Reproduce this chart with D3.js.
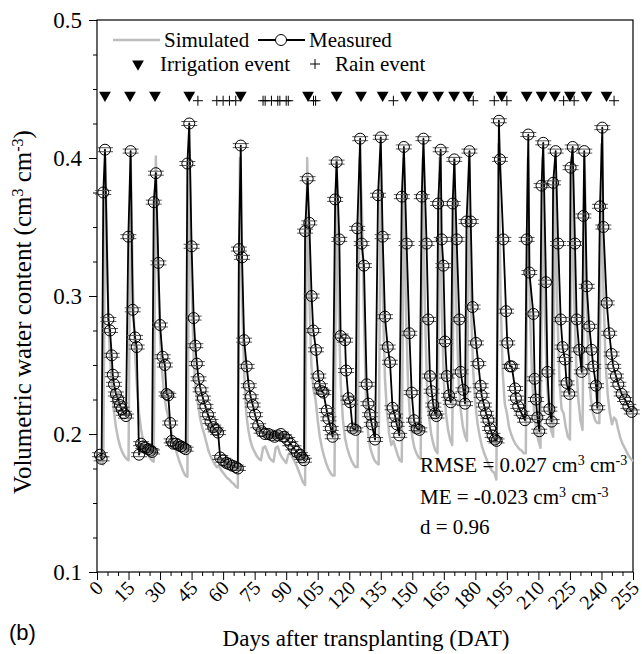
<!DOCTYPE html>
<html>
<head>
<meta charset="utf-8">
<script src="https://cdn.jsdelivr.net/npm/d3@7"></script>
<style>
body { margin: 0; background: #fff; }
svg text { font-family: "Liberation Serif", "Times New Roman", "DejaVu Serif", serif; fill: #000; }
</style>
</head>
<body>
<div id="chart"></div>
<script>
// irrigation / rain event days (DAT)
const irrigationDays = [3.8, 15.7, 27.6, 43.9, 68.4, 100.4, 114, 125.6, 135.9, 147, 154.9, 162.3,
    169.9, 176.6, 192.5, 204.4, 211.5, 217.8, 225, 232.9, 242.4];
const rainDays = [48, 57, 60, 63, 66, 79, 80, 83, 86, 87, 90, 91, 103, 104, 141, 179, 189, 195, 222, 227, 246];
const irrigationMarkY = 0.4455;
const rainMarkY = 0.4415;

// simulated water content, one value per day from day 0
const simVwc = [
    0.182, 0.180, 0.179, 0.178, 0.400,
    0.310, 0.262, 0.236, 0.217, 0.205, 0.197, 0.191, 0.187, 0.184, 0.182, 0.181,
    0.400,
    0.310, 0.260, 0.235, 0.215, 0.203, 0.195, 0.190, 0.186, 0.183, 0.181, 0.180,
    0.401,
    0.320, 0.270, 0.245, 0.228, 0.218, 0.212, 0.205, 0.197, 0.191, 0.186, 0.181, 0.177, 0.173, 0.170, 0.169,
    0.405,
    0.310, 0.255, 0.232, 0.222, 0.212, 0.205, 0.200, 0.194, 0.188, 0.184, 0.181, 0.178, 0.176, 0.177, 0.174,
    0.172, 0.170, 0.168, 0.167, 0.165, 0.164, 0.162, 0.161,
    0.400,
    0.300, 0.245, 0.215, 0.203, 0.195, 0.190, 0.187, 0.184, 0.182, 0.181, 0.190, 0.191, 0.187, 0.183, 0.181,
    0.180, 0.190, 0.191, 0.186, 0.183, 0.181, 0.179, 0.185, 0.187, 0.183, 0.180, 0.177, 0.173, 0.169, 0.165, 0.163,
    0.400,
    0.300, 0.250, 0.232, 0.225, 0.210, 0.198, 0.190, 0.184, 0.179, 0.175, 0.172, 0.170, 0.170,
    0.400,
    0.290, 0.235, 0.210, 0.197, 0.190, 0.185, 0.181, 0.178, 0.176, 0.176,
    0.400,
    0.365, 0.285, 0.225, 0.200, 0.190, 0.185, 0.181, 0.179, 0.178,
    0.400,
    0.300, 0.240, 0.215, 0.200, 0.192, 0.195, 0.190, 0.185, 0.181, 0.180,
    0.400,
    0.290, 0.235, 0.210, 0.198, 0.190, 0.186, 0.183, 0.182,
    0.400,
    0.290, 0.235, 0.212, 0.200, 0.193, 0.188, 0.186,
    0.400,
    0.290, 0.238, 0.215, 0.203, 0.196, 0.192,
    0.400,
    0.290, 0.240, 0.218, 0.206, 0.199, 0.195,
    0.400,
    0.290, 0.245, 0.222, 0.208, 0.199, 0.192, 0.187, 0.183, 0.179, 0.176, 0.173, 0.172, 0.167,
    0.410,
    0.300, 0.245, 0.222, 0.215, 0.205, 0.200, 0.196, 0.193, 0.191, 0.189, 0.188, 0.186, 0.186,
    0.400,
    0.290, 0.240, 0.215, 0.203, 0.195, 0.190,
    0.400,
    0.290, 0.240, 0.215, 0.203, 0.198,
    0.400,
    0.290, 0.240, 0.218, 0.215, 0.205, 0.198, 0.196,
    0.400,
    0.300, 0.250, 0.225, 0.210, 0.203,
    0.400,
    0.290, 0.245, 0.225, 0.215, 0.210, 0.208, 0.208,
    0.410,
    0.300, 0.250, 0.228, 0.215, 0.207, 0.212, 0.210, 0.203, 0.197, 0.193, 0.190, 0.187, 0.184, 0.182, 0.180
];

// measured water content
const measDay = [
    1.4, 2.2, 3.0, 3.8, 5.4, 6.2, 7.0, 7.5, 8.1, 9.0, 10.1, 10.9, 11.7, 12.8, 13.8,
    14.9, 16.0, 17.0, 18.1, 18.9, 20.0, 21.0, 22.0, 23.0, 24.4, 25.5, 26.2,
    27.0, 28.0, 29.2, 30.0, 31.2, 32.3, 33.1, 33.9, 34.8, 35.5, 36.3, 37.5, 38.7, 40.0, 41.2, 42.2,
    43.0, 43.9, 45.0, 46.0, 46.8, 47.5, 48.3, 49.3, 50.4, 51.6, 52.8, 54.0, 55.3, 56.5, 57.6,
    58.6, 60.0, 61.5, 63.0, 64.5, 66.0, 67.0,
    67.5, 68.4, 69.0, 70.0, 71.2, 72.2, 73.1, 74.1, 75.2, 76.7, 78.3, 79.9, 81.5, 83.1, 84.5,
    86.0, 87.5, 89.0, 90.5, 92.0, 93.5, 95.0, 96.6, 97.6, 98.5,
    99.0, 100.2, 101.0, 102.1, 102.9, 104.2, 105.3, 106.1, 106.9, 107.7, 109.3, 110.1, 111.2, 112.1,
    113.3, 114.0, 115.3, 115.9, 118.0, 118.5, 119.6, 120.4, 121.6, 123.0,
    123.8, 125.2, 125.9, 127.0, 128.3, 129.1, 129.9, 130.7, 132.3,
    133.7, 135.0, 135.9, 137.0, 138.3, 139.4, 140.6, 141.8, 142.6, 143.8,
    145.0, 146.0, 147.3, 148.6, 149.7, 150.8, 152.1, 153.4,
    154.5, 155.3, 156.8, 157.6, 158.4, 159.2, 160.0, 160.8, 161.5,
    162.3, 163.5, 164.0, 164.8, 165.6, 166.4, 167.5, 168.3,
    169.2, 170.0, 171.1, 172.4, 173.0, 174.3, 175.1,
    175.8, 177.2, 177.8, 178.7, 180.3, 181.4, 182.5, 183.0, 184.1, 185.1, 186.2, 187.0, 188.2, 189.3, 190.1,
    191.2, 191.7, 193.3, 194.6, 195.2, 196.5, 197.3, 198.9, 199.3, 200.4, 202.0, 203.6,
    204.4, 205.2, 205.7, 207.6, 208.2, 208.8, 209.5, 210.4,
    211.5, 212.3, 213.6, 214.3, 215.2, 216.3,
    217.0, 218.2, 219.4, 220.6, 221.5, 222.6, 223.4, 224.7,
    225.3, 226.3, 227.4, 228.2, 229.4, 230.6,
    231.4, 231.8, 233.0, 234.2, 235.3, 236.1, 237.4, 238.0,
    239.3, 240.4, 240.9, 242.5, 243.7, 244.8, 245.6, 246.9, 248.0, 249.6, 251.2, 252.8, 254.4
];
const measVwc = [
    0.185, 0.182, 0.375, 0.406, 0.283, 0.275, 0.257, 0.243, 0.236, 0.229, 0.225, 0.221, 0.218, 0.215, 0.213,
    0.343, 0.405, 0.290, 0.270, 0.263, 0.185, 0.193, 0.191, 0.190, 0.189, 0.188, 0.187,
    0.368, 0.389, 0.324, 0.279, 0.256, 0.250, 0.229, 0.228, 0.208, 0.195, 0.193, 0.193, 0.192, 0.191, 0.190, 0.189,
    0.396, 0.425, 0.336, 0.284, 0.264, 0.251, 0.240, 0.232, 0.226, 0.220, 0.214, 0.209, 0.205, 0.203, 0.201,
    0.183, 0.181, 0.179, 0.178, 0.177, 0.176, 0.175,
    0.334, 0.409, 0.328, 0.268, 0.249, 0.235, 0.227, 0.221, 0.214, 0.206, 0.202, 0.200, 0.200, 0.199, 0.198,
    0.199, 0.200, 0.198, 0.196, 0.193, 0.190, 0.187, 0.185, 0.183, 0.181,
    0.347, 0.385, 0.353, 0.300, 0.275, 0.261, 0.242, 0.235, 0.231, 0.230, 0.217, 0.211, 0.204, 0.198,
    0.370, 0.397, 0.341, 0.271, 0.268, 0.246, 0.226, 0.223, 0.204, 0.203,
    0.349, 0.414, 0.338, 0.322, 0.236, 0.222, 0.214, 0.207, 0.196,
    0.373, 0.415, 0.343, 0.285, 0.263, 0.252, 0.219, 0.213, 0.207, 0.199,
    0.372, 0.408, 0.338, 0.273, 0.230, 0.210, 0.204, 0.203,
    0.372, 0.414, 0.338, 0.283, 0.242, 0.231, 0.221, 0.215, 0.213,
    0.367, 0.406, 0.341, 0.322, 0.267, 0.242, 0.228, 0.223,
    0.367, 0.399, 0.341, 0.283, 0.245, 0.232, 0.222,
    0.354, 0.405, 0.354, 0.292, 0.266, 0.251, 0.235, 0.228, 0.221, 0.215, 0.210, 0.204, 0.199, 0.196, 0.195,
    0.427, 0.399, 0.341, 0.289, 0.266, 0.249, 0.249, 0.233, 0.226, 0.220, 0.215, 0.210,
    0.341, 0.417, 0.317, 0.287, 0.240, 0.225, 0.212, 0.202,
    0.380, 0.411, 0.310, 0.245, 0.218, 0.209,
    0.382, 0.405, 0.338, 0.283, 0.263, 0.254, 0.237, 0.229,
    0.393, 0.408, 0.338, 0.283, 0.261, 0.245,
    0.358, 0.405, 0.307, 0.278, 0.261, 0.249, 0.235, 0.219,
    0.365, 0.422, 0.350, 0.295, 0.273, 0.258, 0.249, 0.242, 0.236, 0.229, 0.225, 0.220, 0.216
];

const xTicks = [0, 15, 30, 45, 60, 75, 90, 105, 120, 135, 150, 165, 180, 195, 210, 225, 240, 255];
const yTicks = [0.1, 0.2, 0.3, 0.4, 0.5];

const dims = { width: 642, height: 654, left: 97, right: 633, top: 20, bottom: 572 };
const serif = '"Liberation Serif", "Times New Roman", "DejaVu Serif", serif';

const svg = d3.select('#chart')
    .append('svg')
    .attr('width', dims.width)
    .attr('height', dims.height)
    .attr('font-family', serif);

const x = d3.scaleLinear().domain([0, 255]).range([dims.left, dims.right]);
const y = d3.scaleLinear().domain([0.1, 0.5]).range([dims.bottom, dims.top]);

// minor ticks
const xMinor = d3.range(0, 256, 5).filter(d => d % 15 !== 0);
const yMinor = d3.range(0.1, 0.5001, 0.025).filter(d => Math.abs(d * 10 - Math.round(d * 10)) > 1e-6);

svg.append('g')
    .attr('transform', `translate(0,${dims.bottom})`)
    .call(d3.axisBottom(x).tickValues(xMinor).tickSize(4).tickFormat(''))
    .call(g => g.select('.domain').remove());
const xAxis = svg.append('g')
    .attr('transform', `translate(0,${dims.bottom})`)
    .call(d3.axisBottom(x).tickValues(xTicks).tickSize(8).tickFormat(''));
xAxis.select('.domain').remove();

svg.append('g')
    .attr('transform', `translate(${dims.left},0)`)
    .call(d3.axisLeft(y).tickValues(yMinor).tickSize(4).tickFormat(''))
    .call(g => g.select('.domain').remove());
const yAxis = svg.append('g')
    .attr('transform', `translate(${dims.left},0)`)
    .call(d3.axisLeft(y).tickValues(yTicks).tickSize(8).tickFormat(d3.format('.1f')));
yAxis.select('.domain').remove();
yAxis.attr('font-family', serif);
yAxis.selectAll('text')
    .attr('x', -15)
    .style('font-family', serif)
    .style('font-size', '23px');

// rotated day labels
svg.append('g')
    .selectAll('text')
    .data(xTicks)
    .enter()
        .append('text')
        .attr('transform', d => `translate(${x(d) + 3},${dims.bottom + 13}) rotate(-45)`)
        .attr('text-anchor', 'end')
        .attr('dy', '0.3em')
        .style('font-family', serif)
        .style('font-size', '20px')
        .text(d => d);

svg.selectAll('g.tick line').attr('stroke', '#000');

// plot frame
svg.append('rect')
    .attr('x', dims.left)
    .attr('y', dims.top)
    .attr('width', dims.right - dims.left)
    .attr('height', dims.bottom - dims.top)
    .attr('fill', 'none')
    .attr('stroke', '#000')
    .attr('stroke-width', 1.2);

const plot = svg.append('g');

// simulated line
plot.append('path')
    .datum(simVwc)
    .attr('fill', 'none')
    .attr('stroke', '#bdbdbd')
    .attr('stroke-width', 2.5)
    .attr('stroke-linejoin', 'round')
    .attr('d', d3.line().x((d, i) => x(i)).y(d => y(d)));

const measured = measDay.map((d, i) => ({ day: d, vwc: measVwc[i] }));

// measured line
plot.append('path')
    .datum(measured)
    .attr('fill', 'none')
    .attr('stroke', '#000')
    .attr('stroke-width', 1.8)
    .attr('stroke-linejoin', 'round')
    .attr('d', d3.line().x(d => x(d.day)).y(d => y(d.vwc)));

// error bar caps
const caps = plot.append('g').attr('stroke', '#555').attr('stroke-width', 1);
measured.forEach(d => {
    [-2, 2].forEach(off => {
        caps.append('line')
            .attr('x1', x(d.day) - 8).attr('x2', x(d.day) + 8)
            .attr('y1', y(d.vwc) + off).attr('y2', y(d.vwc) + off);
    });
});

plot.selectAll('circle.meas')
    .data(measured)
    .enter()
        .append('circle')
        .attr('class', 'meas')
        .attr('cx', d => x(d.day))
        .attr('cy', d => y(d.vwc))
        .attr('r', 5.5)
        .attr('fill', 'none')
        .attr('stroke', '#000')
        .attr('stroke-width', 1);

// event markers
const tri = d3.symbol().type(d3.symbolTriangle).size(60);
plot.selectAll('path.irr')
    .data(irrigationDays)
    .enter()
        .append('path')
        .attr('class', 'irr')
        .attr('d', tri)
        .attr('transform', d => `translate(${x(d)},${y(irrigationMarkY)}) rotate(180)`)
        .attr('fill', '#000');

plot.selectAll('g.rain')
    .data(rainDays)
    .enter()
        .append('g')
        .attr('class', 'rain')
        .attr('transform', d => `translate(${x(d)},${y(rainMarkY)})`)
        .each(function() {
            d3.select(this).append('line').attr('x1', -5).attr('x2', 5).attr('stroke', '#000');
            d3.select(this).append('line').attr('y1', -5).attr('y2', 5).attr('stroke', '#000');
        });

// legend
const legend = svg.append('g').style('font-size', '21px');
legend.append('line').attr('x1', 113).attr('x2', 160).attr('y1', 40).attr('y2', 40)
    .attr('stroke', '#bdbdbd').attr('stroke-width', 2.5);
legend.append('text').attr('x', 164).attr('y', 47).text('Simulated');
legend.append('line').attr('x1', 258).attr('x2', 305).attr('y1', 40).attr('y2', 40)
    .attr('stroke', '#000').attr('stroke-width', 1.8);
legend.append('circle').attr('cx', 281).attr('cy', 40).attr('r', 5.5)
    .attr('fill', '#fff').attr('stroke', '#000');
legend.append('text').attr('x', 309).attr('y', 47).text('Measured');
legend.append('path').attr('d', tri).attr('transform', 'translate(138,64) rotate(180)').attr('fill', '#000');
legend.append('text').attr('x', 160).attr('y', 71).text('Irrigation event');
legend.append('line').attr('x1', 310).attr('x2', 320).attr('y1', 64).attr('y2', 64).attr('stroke', '#000');
legend.append('line').attr('x1', 315).attr('x2', 315).attr('y1', 59).attr('y2', 69).attr('stroke', '#000');
legend.append('text').attr('x', 335).attr('y', 71).text('Rain event');

// statistics
const stats = svg.append('g').style('font-size', '21px');
const unitText = (sel, label) => {
    sel.append('tspan').text(label + ' cm');
    sel.append('tspan').attr('baseline-shift', 'super').style('font-size', '14px').text('3');
    sel.append('tspan').text(' cm');
    sel.append('tspan').attr('baseline-shift', 'super').style('font-size', '14px').text('-3');
};
stats.append('text').attr('x', 420).attr('y', 472).call(unitText, 'RMSE = 0.027');
stats.append('text').attr('x', 420).attr('y', 504).call(unitText, 'ME = -0.023');
stats.append('text').attr('x', 420).attr('y', 534).text('d = 0.96');

// axis titles
svg.append('text')
    .attr('x', 366)
    .attr('y', 646)
    .attr('text-anchor', 'middle')
    .style('font-size', '23px')
    .text('Days after transplanting (DAT)');

const yTitle = svg.append('text')
    .attr('transform', 'translate(31,312) rotate(-90)')
    .attr('text-anchor', 'middle')
    .style('font-size', '25px');
yTitle.append('tspan').text('Volumetric water content (cm');
yTitle.append('tspan').attr('baseline-shift', 'super').style('font-size', '16px').text('3');
yTitle.append('tspan').text(' cm');
yTitle.append('tspan').attr('baseline-shift', 'super').style('font-size', '16px').text('-3');
yTitle.append('tspan').text(')');

svg.append('text')
    .attr('x', 9)
    .attr('y', 640)
    .style('font-family', '"Liberation Sans", Arial, sans-serif')
    .style('font-size', '22px')
    .text('(b)');
</script>
</body>
</html>
